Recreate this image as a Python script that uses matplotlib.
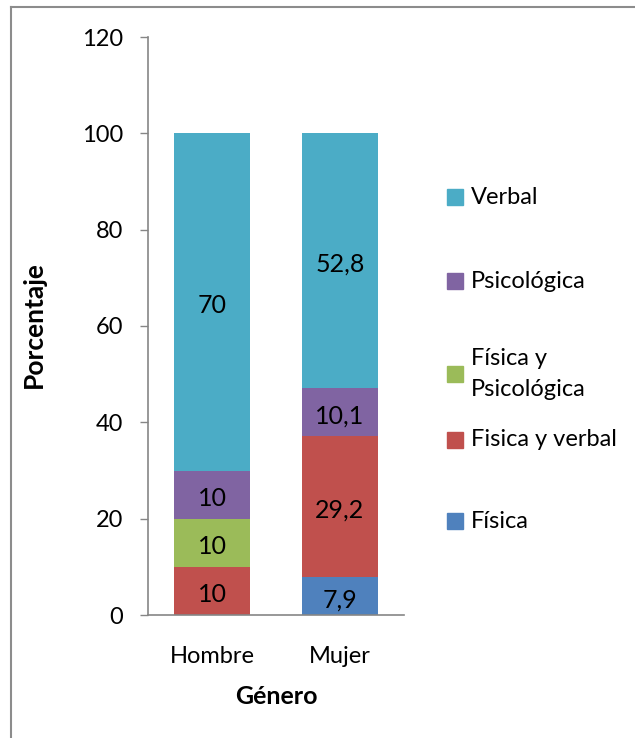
import numpy as np
import matplotlib.pyplot as plt
from matplotlib.patches import Rectangle
from matplotlib.lines import Line2D

plt.rcParams['font.family'] = ['Lato', 'DejaVu Sans']

# datos
generos = ['Hombre', 'Mujer']
fisica = [0, 7.9]
fisica_verbal = [10, 29.2]
fisica_psico = [10, 0]
psicologica = [10, 10.1]
verbal = [70, 52.8]

series = [
    ('Física', fisica, '#4F81BD'),
    ('Fisica y verbal', fisica_verbal, '#C0504D'),
    ('Física y\nPsicológica', fisica_psico, '#9BBB59'),
    ('Psicológica', psicologica, '#8064A2'),
    ('Verbal', verbal, '#4BACC6'),
]
# posición vertical (px desde arriba) de cada entrada de la leyenda
legend_y = [521, 440, 374, 281, 197]

W, H = 635, 738
fig = plt.figure(figsize=(W / 100, H / 100), dpi=100)
ax = fig.add_axes([148 / W, 1 - 615 / H, 256 / W, 578 / H])

x = np.arange(len(generos))
bottom = np.zeros(len(generos))
for nombre, vals, color in series:
    vals = np.array(vals, dtype=float)
    ax.bar(x, vals, width=0.59, bottom=bottom, color=color,
           edgecolor='none')
    for xi, b, v in zip(x, bottom, vals):
        if v > 0:
            txt = ('%g' % v).replace('.', ',')
            ax.text(xi, b + v / 2 - 0.8, txt, ha='center', va='center',
                    fontsize=18, color='black')
    bottom += vals

ax.set_xlim(-0.5, 1.5)
ax.set_ylim(0, 120)
ax.set_yticks(np.arange(0, 121, 20))
ax.set_xticks(x)
ax.set_xticklabels(generos)
ax.tick_params(axis='y', length=6, width=1, color='#868686', labelsize=17, pad=12)
ax.tick_params(axis='x', length=0, labelsize=17, pad=22)
for s in ['top', 'right']:
    ax.spines[s].set_visible(False)
for s in ['left', 'bottom']:
    ax.spines[s].set_color('#868686')
    ax.spines[s].set_linewidth(1.2)

ax.set_ylabel('Porcentaje', fontsize=19, fontweight='bold')
ax.yaxis.set_label_coords((34 - 148) / 256, (615 - 325) / 578)
ax.yaxis.label.set_va('center')
ax.set_xlabel('Género', fontsize=18, fontweight='bold')
ax.xaxis.set_label_coords(0.5, (615 - 697) / 578)
ax.xaxis.label.set_va('center')

# leyenda manual
for (nombre, vals, color), yp in zip(series, legend_y):
    yf = 1 - yp / H
    fig.patches.append(Rectangle((447 / W, yf - 8 / H), 16 / W, 16 / H,
                                 transform=fig.transFigure, color=color))
    fig.text(471 / W, yf, nombre, fontsize=17, va='center', ha='left',
             linespacing=1.6)

# borde de la figura
fig.add_artist(Line2D([11 / W, 1], [1 - 7 / H, 1 - 7 / H],
                      color='#8c8c8c', lw=1.5, transform=fig.transFigure))
fig.add_artist(Line2D([11 / W, 11 / W], [0, 1 - 7 / H],
                      color='#8c8c8c', lw=1.5, transform=fig.transFigure))

fig.savefig('out.png', dpi=100, facecolor='white')
